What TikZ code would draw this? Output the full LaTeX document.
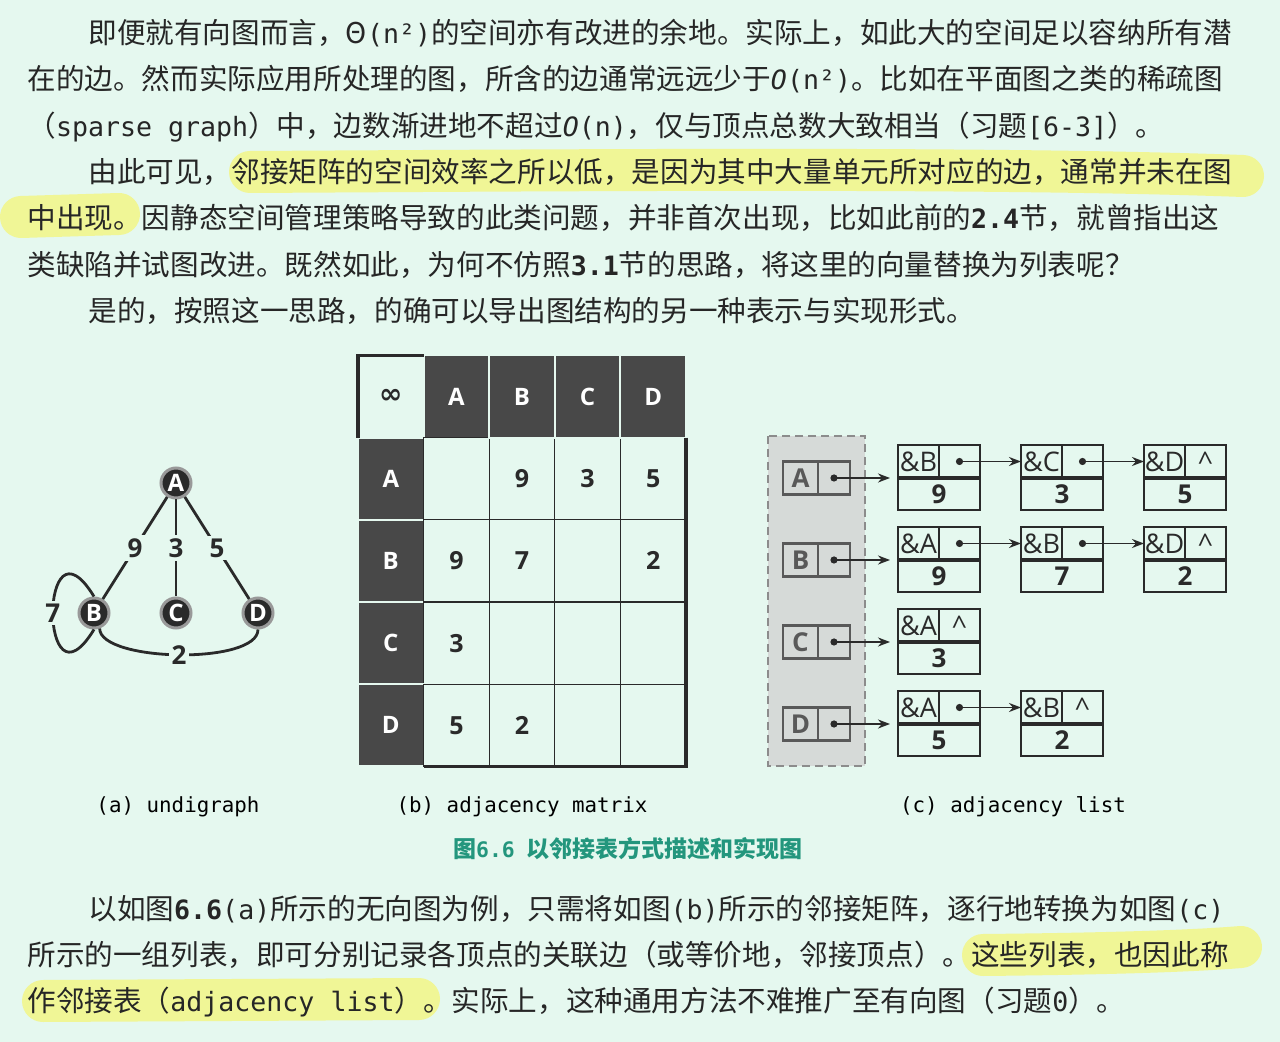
\documentclass[tikz,border=0pt]{standalone}
\usepackage{fontspec}
\setmainfont{Noto Sans CJK SC}
\newfontfamily\tm{DejaVu Sans Mono}[Scale=0.93]
\newfontfamily\dg{Open Sans}
\newfontfamily\sym{DejaVu Sans}
\usetikzlibrary{arrows.meta, positioning}
\XeTeXlinebreaklocale "zh"
\XeTeXlinebreakskip=0pt plus 3pt
\definecolor{pageBg}{RGB}{229,248,239}
\definecolor{inkGray}{RGB}{42,42,42}
\definecolor{headGray}{RGB}{72,72,72}
\definecolor{markYellow}{RGB}{240,246,150}
\definecolor{capTeal}{RGB}{35,150,125}
\definecolor{boxGray}{RGB}{214,218,216}
\tikzset{
    txt/.style={inner sep=0pt, text=black!85, font=\fontsize{14.3pt}{18pt}\selectfont},
    subcap/.style={inner sep=0pt, text=black, font=\tm\fontsize{11.2pt}{12pt}\selectfont},
    marker/.style={draw=markYellow, line width=21pt, line cap=round},
    vtx/.style={circle, fill=inkGray, draw=black!40, line width=1.5pt, minimum size=15pt,
        inner sep=0pt, text=white, font=\dg\bfseries\fontsize{12pt}{12pt}\selectfont},
    gedge/.style={draw=inkGray, line width=1.4pt},
    wlabel/.style={fill=pageBg, inner sep=1.5pt, text=inkGray,
        font=\dg\bfseries\fontsize{13pt}{13pt}\selectfont},
    mcell/.style={draw=inkGray, line width=0.6pt, minimum width=32.8pt, minimum height=41.1pt,
        inner sep=0pt, outer sep=0pt},
    hcell/.style={mcell, fill=headGray, draw=pageBg, line width=1pt, text=white,
        font=\dg\bfseries\fontsize{12pt}{12pt}\selectfont},
    mval/.style={inner sep=0pt, text=inkGray, font=\dg\bfseries\fontsize{12.5pt}{12.5pt}\selectfont},
    vcell/.style={draw=black!65, line width=1.4pt, minimum width=17.5pt, minimum height=16.5pt,
        inner sep=0pt, outer sep=0pt, text=black!65, font=\dg\bfseries\fontsize{13pt}{13pt}\selectfont},
    vptr/.style={vcell, minimum width=16pt},
    lbl/.style={draw=inkGray, line width=1pt, minimum width=20.5pt, minimum height=16.5pt,
        inner sep=0pt, outer sep=0pt, text=inkGray, font=\dg\fontsize{13.5pt}{13.5pt}\selectfont},
    lwt/.style={lbl, minimum width=41pt, minimum height=16pt, font=\dg\bfseries\fontsize{13pt}{13pt}\selectfont},
    lsep/.style={draw=inkGray, line width=1.8pt},
    link/.style={draw=inkGray, line width=0.9pt, -{Stealth[length=6pt, width=4.5pt]}}
}
\newcommand\jline[2]{\hbox to #1{#2}}
% one list entry: name, top-left corner, label, pointer, weight
\newcommand\adjnode[5]{%
    \node[lbl, anchor=north west] (#1l) at #2 {#3};
    \node[lbl, anchor=north west] (#1p) at (#1l.north east) {#4};
    \node[lwt, anchor=north west] (#1w) at (#1l.south west) {#5};
    \draw[lsep] (#1w.north west) -- (#1w.north east);
}

\begin{document}
\begin{tikzpicture}[x=0.5pt, y=-0.5pt]
    % page
    \fill[pageBg] (0,0) rectangle (1280,1042);
    \useasboundingbox (0,0) rectangle (1280,1042);

    % marker strokes
    \draw[marker] (250,172) .. controls (600,170) and (1000,167) .. (1243,176);
    \draw[marker] (21,217) -- (119,214);
    \draw[marker] (983,955) .. controls (1080,954) and (1180,952) .. (1241,947);
    \draw[marker] (43,1001) -- (419,999);

    % text above the figure
    \node[txt, anchor=base west] (l1) at (88,44) {\jline{571pt}{即便就有向图而言，Θ{\tm(n²)}的空间亦有改进的余地。实际上，如此大的空间足以容纳所有潜}};
    \node[txt, anchor=base west] (l2) at (27,90) {\jline{603pt}{在的边。然而实际应用所处理的图，所含的边通常远远少于{\tm\itshape O}{\tm(n²)}。比如在平面图之类的稀疏图}};
    \node[txt, anchor=base west] (l3) at (27,137) {（{\tm sparse graph}）中，边数渐进地不超过{\tm\itshape O}{\tm(n)}，仅与顶点总数大致相当（习题{\tm[6-3]}）。};
    \node[txt, anchor=base west] (l4) at (88,183) {\jline{571pt}{由此可见，邻接矩阵的空间效率之所以低，是因为其中大量单元所对应的边，通常并未在图}};
    \node[txt, anchor=base west] (l5) at (27,229) {\jline{603pt}{中出现。因静态空间管理策略导致的此类问题，并非首次出现，比如此前的{\tm\bfseries 2.4}节，就曾指出这}};
    \node[txt, anchor=base west] (l6) at (27,276) {类缺陷并试图改进。既然如此，为何不仿照{\tm\bfseries 3.1}节的思路，将这里的向量替换为列表呢？};
    \node[txt, anchor=base west] (l7) at (88,322) {是的，按照这一思路，的确可以导出图结构的另一种表示与实现形式。};

    % (a) undirected graph
    \node[vtx] (A) at (176,483) {A};
    \node[vtx] (B) at (94,613) {B};
    \node[vtx] (C) at (176,613) {C};
    \node[vtx] (D) at (258,613) {D};
    \draw[gedge] (A) -- node[wlabel] (wAB) {9} (B);
    \draw[gedge] (A) -- node[wlabel] (wAC) {3} (C);
    \draw[gedge] (A) -- node[wlabel] (wAD) {5} (D);
    \draw[gedge] (B.north) .. controls +(-55,-90) and +(-55,90) .. node[wlabel] (wBB) {7} (B.south);
    \draw[gedge] (B.-70) .. controls (100,662) and (258,665) .. node[wlabel] (wBD) {2} (D.south);

    % (b) adjacency matrix
    \node[mcell, draw=none, font=\sym\bfseries\fontsize{14pt}{14pt}\selectfont, text=inkGray] (m-0-0) at (390.8,396.5) {∞};
    \foreach \lab [count=\i] in {A,B,C,D} {
        \node[hcell] (m-0-\i) at ({390.8+65.6*\i},396.5) {\lab};
        \node[hcell] (m-\i-0) at (390.8,{396.5+82.2*\i}) {\lab};
        \foreach \j in {1,...,4}
            \node[mcell] (m-\i-\j) at ({390.8+65.6*\j},{396.5+82.2*\i}) {};
    }
    \foreach \i/\j/\w in {1/2/9, 1/3/3, 1/4/5, 2/1/9, 2/2/7, 2/4/2, 3/1/3, 4/1/5, 4/2/2}
        \node[mval] (v-\i-\j) at (m-\i-\j) {\w};
    \draw[inkGray, line width=1.6pt] (m-0-0.south west) -- (m-0-0.north west) -- (m-0-0.north east);
    \draw[inkGray, line width=1.6pt] (m-1-4.north east) -- (m-4-4.south east) -- (m-4-1.south west);

    % (c) adjacency list
    \fill[boxGray] (768,436) rectangle (865,766);
    \draw[black!45, line width=0.8pt, dash pattern=on 4pt off 2.5pt] (768,436) rectangle (865,766);
    \foreach \v [count=\k] in {A,B,C,D} {
        \node[vcell] (h\v) at (800.5,{478+82*(\k-1)}) {\v};
        \node[vptr, right=0pt of h\v] (p\v) {};
    }
    \adjnode{a1}{(898,445)}{\&B}{}{9}
    \adjnode{a2}{(1021,445)}{\&C}{}{3}
    \adjnode{a3}{(1144,445)}{\&D}{\textasciicircum}{5}
    \adjnode{b1}{(898,527)}{\&A}{}{9}
    \adjnode{b2}{(1021,527)}{\&B}{}{7}
    \adjnode{b3}{(1144,527)}{\&D}{\textasciicircum}{2}
    \adjnode{c1}{(898,609)}{\&A}{\textasciicircum}{3}
    \adjnode{d1}{(898,691)}{\&A}{}{5}
    \adjnode{d2}{(1021,691)}{\&B}{\textasciicircum}{2}
    \foreach \s/\t in {pA/a1, pB/b1, pC/c1, pD/d1}
        \draw[link, shorten >=4pt] (\s.center) -- (\s.center -| \t l.west);
    \foreach \s/\t in {a1/a2, a2/a3, b1/b2, b2/b3, d1/d2}
        \draw[link] (\s p.center) -- (\t l.west);
    \foreach \s in {pA, pB, pC, pD, a1p, a2p, b1p, b2p, d1p}
        \fill[inkGray] (\s.center) circle (1.8pt);

    % captions
    \node[subcap] (capA) at (178,807) {(a) undigraph};
    \node[subcap] (capB) at (522,807) {(b) adjacency matrix};
    \node[subcap] (capC) at (1013,807) {(c) adjacency list};
    \node[inner sep=0pt, text=capTeal, font=\bfseries\fontsize{11.5pt}{12pt}\selectfont] (figcap) at (628,849)
        {图{\tm 6.6}\hspace{6pt}以邻接表方式描述和实现图};

    % text below the figure
    \node[txt, anchor=base west] (l8) at (88,919) {\jline{571pt}{以如图{\tm\bfseries 6.6}{\tm(a)}所示的无向图为例，只需将如图{\tm(b)}所示的邻接矩阵，逐行地转换为如图{\tm(c)}}};
    \node[txt, anchor=base west] (l9) at (27,965) {\jline{603pt}{所示的一组列表，即可分别记录各顶点的关联边（或等价地，邻接顶点）。这些列表，也因此称}};
    \node[txt, anchor=base west] (l10) at (27,1011) {作邻接表（{\tm adjacency list}）。实际上，这种通用方法不难推广至有向图（习题{\tm 0}）。};
\end{tikzpicture}
\end{document}
